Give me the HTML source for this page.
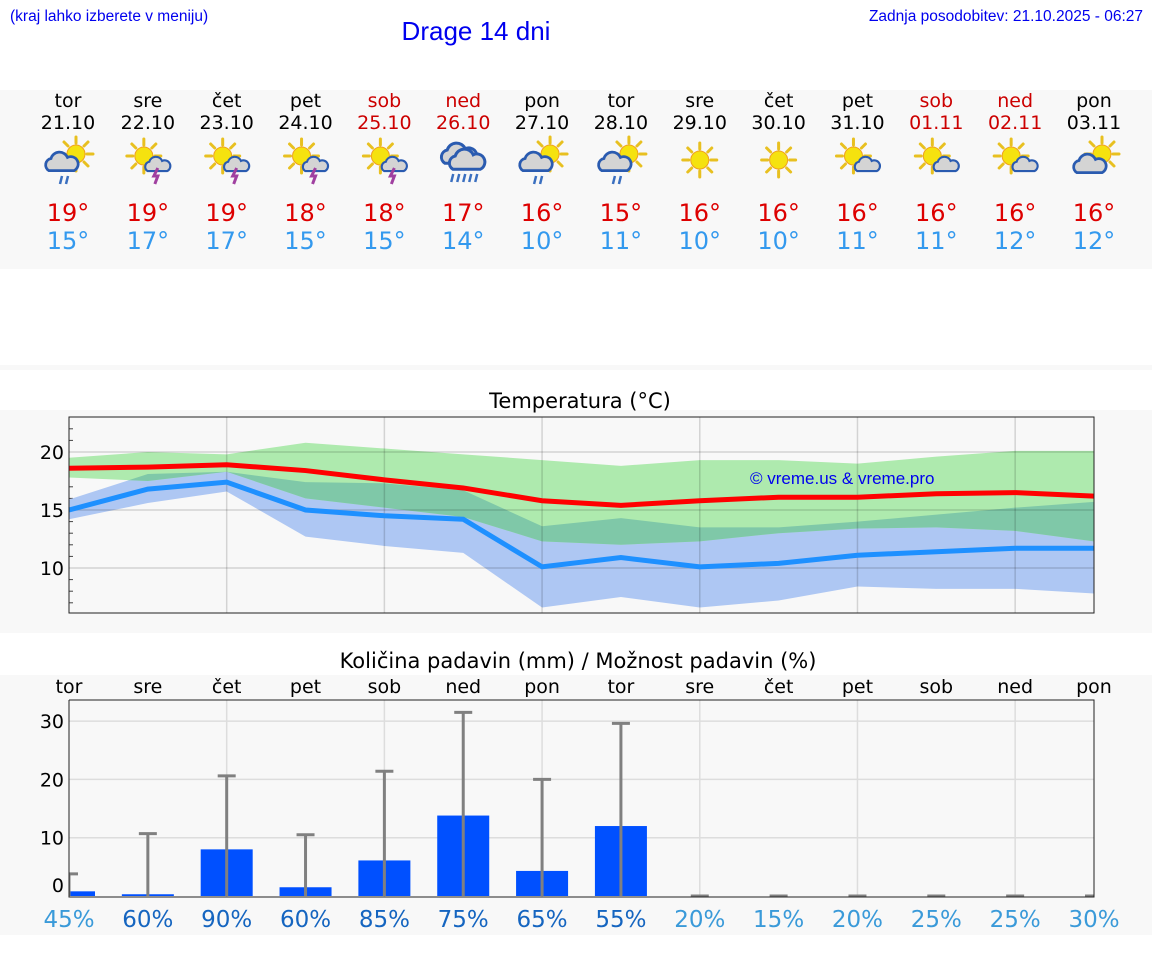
<!DOCTYPE html>
<html><head><meta charset="utf-8"><style>
body{margin:0;background:#fff;width:1152px;height:975px;overflow:hidden;font-family:"DejaVu Sans","Liberation Sans",sans-serif}
svg{display:block}
</style></head><body>
<svg id="main" width="1152" height="975" xmlns="http://www.w3.org/2000/svg">
<defs>
<g id="sun"><g stroke="#e8c020" stroke-width="3" stroke-linecap="round"><line x1="0" y1="-11" x2="0" y2="-17"/><line x1="0" y1="11" x2="0" y2="17"/><line x1="-11" y1="0" x2="-17" y2="0"/><line x1="11" y1="0" x2="17" y2="0"/><line x1="8" y1="8" x2="12" y2="12"/><line x1="-8" y1="-8" x2="-12" y2="-12"/><line x1="8" y1="-8" x2="12" y2="-12"/><line x1="-8" y1="8" x2="-12" y2="12"/></g><circle r="9" fill="#f5e20f" stroke="#f0a020" stroke-width="1"/></g>
<g id="cloud"><path d="M-12,6 a6,6 0 0 1 2,-11 a8,8 0 0 1 15,-1 a6,6 0 0 1 6,12 z" fill="#d4d4d4" stroke="#2a5bb0" stroke-width="2.5"/></g>
</defs>
<rect x="0" y="90" width="1152" height="179" fill="#f8f8f8"/>
<rect x="0" y="365" width="1152" height="5" fill="#f8f8f8"/>
<rect x="0" y="410" width="1152" height="223" fill="#f8f8f8"/>
<rect x="0" y="675" width="1152" height="260" fill="#f8f8f8"/>
<text x="10" y="21" font-family="Liberation Sans" font-size="15.5" fill="#0000ee">(kraj lahko izberete v meniju)</text>
<text x="476" y="40" text-anchor="middle" font-family="Liberation Sans" font-size="26" fill="#0000ee">Drage 14 dni</text>
<text x="1143" y="21" text-anchor="end" font-family="Liberation Sans" font-size="15.5" fill="#0000ee">Zadnja posodobitev: 21.10.2025 - 06:27</text>
<text x="580" y="408" text-anchor="middle" font-size="21" fill="#000">Temperatura (°C)</text>
<text x="578" y="668" text-anchor="middle" font-size="21" fill="#000">Količina padavin (mm) / Možnost padavin (%)</text>
<g id="days"></g>
<g id="temp"></g>
<g id="precip"></g>
</svg>
<script>
const NS='http://www.w3.org/2000/svg';
const weekdays=['tor','sre','čet','pet','sob','ned','pon','tor','sre','čet','pet','sob','ned','pon'];
const dates=['21.10','22.10','23.10','24.10','25.10','26.10','27.10','28.10','29.10','30.10','31.10','01.11','02.11','03.11'];
const weekend=[0,0,0,0,1,1,0,0,0,0,0,1,1,0];
const icons=['rain','storm','storm','storm','storm','heavyrain','rain','rain','sun','sun','cloud','cloud','cloud','cloudbig'];
const tmax=[19,19,19,18,18,17,16,15,16,16,16,16,16,16];
const tmin=[15,17,17,15,15,14,10,11,10,10,11,11,12,12];
const maxLine=[18.6,18.7,18.9,18.4,17.6,16.9,15.8,15.4,15.8,16.1,16.1,16.4,16.5,16.2];
const maxHi=[19.5,20.0,19.8,20.8,20.3,19.8,19.3,18.8,19.3,19.3,19.0,19.6,20.1,20.1];
const maxLo=[17.8,17.5,18.3,16.0,15.2,14.4,12.3,12.0,12.3,13.0,13.4,13.5,13.2,12.3];
const minLine=[15.0,16.8,17.4,15.0,14.5,14.2,10.1,10.9,10.1,10.4,11.1,11.4,11.7,11.7];
const minHi=[15.9,18.1,18.3,17.4,17.3,16.7,13.6,14.3,13.5,13.5,14.0,14.6,15.2,15.7];
const minLo=[14.2,15.6,16.6,12.7,11.9,11.3,6.6,7.5,6.6,7.2,8.4,8.2,8.2,7.8];
const tempTicks=[10,15,20];
const precip=[0.8,0.3,8.0,1.5,6.1,13.8,4.3,12.0,0,0,0,0,0,0];
const precipMax=[3.8,10.7,20.6,10.5,21.4,31.5,20.0,29.6,0,0,0,0,0,0];
const chance=[45,60,90,60,85,75,65,55,20,15,20,25,25,30];
const precipTicks=[0,10,20,30];

const L=69,R=1094;
const dx=i=>L+i*(R-L)/13;
const tY=v=>568+(10-v)*11.6;
const pY=v=>896-v*5.83;
function mk(tag,attrs,parent,txt){const e=document.createElementNS(NS,tag);for(const k in attrs)e.setAttribute(k,attrs[k]);if(txt!==undefined)e.textContent=txt;parent.appendChild(e);return e;}

const D=document.getElementById('days');
function icon(g,type,x,y){
  const u=(id,tx,ty,s)=>mk('use',{href:'#'+id,transform:`translate(${tx},${ty}) scale(${s})`},g);
  const drops=(tx,ty,n)=>{for(let k=0;k<n;k++)mk('line',{x1:tx+k*6,y1:ty,x2:tx+k*6-2,y2:ty+8,stroke:'#3a6fc0','stroke-width':2.5},g);};
  if(type==='rain'){u('sun',x+8,y-6,1);u('cloud',x-6,y+4,1.1);drops(x-6,y+16,2);}
  else if(type==='storm'){u('sun',x-4,y-4,1);u('cloud',x+10,y+6,0.85);mk('path',{d:`M${x+10},${y+8} l-4,8 h4 l-3,8`,stroke:'#a040a0','stroke-width':3,fill:'none'},g);}
  else if(type==='heavyrain'){u('cloud',x-4,y-4,1.2);u('cloud',x+4,y+2,1.2);drops(x-10,y+14,5);}
  else if(type==='sun'){u('sun',x,y,1);}
  else if(type==='cloud'){u('sun',x-4,y-4,1);u('cloud',x+10,y+6,0.85);}
  else {u('sun',x+8,y-6,1);u('cloud',x-4,y+6,1.1);}
}
for(let i=0;i<14;i++){
  const x=dx(i);
  const cx=i===0?68:(i===13?1094:x);
  const wd=mk('text',{x:cx,y:107,'text-anchor':'middle','font-size':19,fill:weekend[i]?'#cc0000':'#000'},D,weekdays[i]);
  
  
  const dt=mk('text',{x:cx,y:129,'text-anchor':'middle','font-size':19,fill:weekend[i]?'#cc0000':'#000'},D,dates[i]);
  
  
  const ig=mk('g',{},D);
  
  
  icon(ig,icons[i],cx,160);
  const mx=mk('text',{x:cx,y:221,'text-anchor':'middle','font-size':24,fill:'#dd0000'},D,tmax[i]+'°');
  
  
  const mn=mk('text',{x:cx,y:249,'text-anchor':'middle','font-size':24,fill:'#3399ee'},D,tmin[i]+'°');
  
  
}

// temperature chart
const T=document.getElementById('temp');
const pa=mk('rect',{x:L,y:417,width:R-L,height:196,fill:'#f8f8f8'},T);


for(let v=7;v<=22;v++){mk('line',{x1:L,y1:tY(v),x2:L+(v%5===0?0:4),y2:tY(v),stroke:'#444'},T);}
const bandPath=(hi,lo)=>'M'+hi.map((v,i)=>dx(i)+','+tY(v)).join('L')+'L'+lo.map((v,i)=>dx(i)+','+tY(v)).reverse().join('L')+'Z';
const cpB=mk('clipPath',{id:'blueclip'},T);
mk('path',{d:bandPath(minHi,minLo)},cpB);
function band(hi,lo,fill,name,clip){
  const a={d:bandPath(hi,lo),fill};if(clip)a['clip-path']='url(#blueclip)';
  const p=mk('path',a,T);
  
  
}
band(minHi,minLo,'#aec7f3','min-temp-range');
band(maxHi,maxLo,'#aeeaae','max-temp-range');
band(maxHi,maxLo,'#7fc8a8','range-overlap',true);
for(let i=2;i<13;i+=2)mk('line',{x1:dx(i),y1:417,x2:dx(i),y2:613,stroke:'rgba(0,0,0,0.15)','stroke-width':1.5},T);
tempTicks.forEach(v=>{mk('line',{x1:L,y1:tY(v),x2:R,y2:tY(v),stroke:'rgba(0,0,0,0.15)','stroke-width':1.5},T);
  const t=mk('text',{x:L-5,y:tY(v)+7,'text-anchor':'end','font-size':19,fill:'#000'},T,v);
  
  });
function line(arr,col,name){
  const p=mk('polyline',{points:arr.map((v,i)=>dx(i)+','+tY(v)).join(' '),fill:'none',stroke:col,'stroke-width':5},T);
  
  
}
line(minLine,'#1e90ff','min-temp-line');
line(maxLine,'#ff0000','max-temp-line');
mk('rect',{x:L,y:417,width:R-L,height:196,fill:'none',stroke:'#222','stroke-width':1},T);
const wm=mk('text',{x:750,y:484,'font-family':'Liberation Sans','font-size':17,fill:'#0000ee'},T,'© vreme.us & vreme.pro');



// precip chart
const P=document.getElementById('precip');
for(let i=0;i<14;i++){
  const t=mk('text',{x:dx(i),y:693,'text-anchor':'middle','font-size':19,fill:'#000'},P,weekdays[i]);
  
  
}
const pp=mk('rect',{x:L,y:700,width:R-L,height:197,fill:'#f8f8f8'},P);


for(let i=2;i<13;i+=2)mk('line',{x1:dx(i),y1:700,x2:dx(i),y2:897,stroke:'#ddd','stroke-width':1.5},P);
precipTicks.forEach(v=>{if(v>0)mk('line',{x1:L,y1:pY(v),x2:R,y2:pY(v),stroke:'#ddd','stroke-width':1.5},P);
  const t=mk('text',{x:L-5,y:(v===0?pY(v)-4:pY(v)+7),'text-anchor':'end','font-size':19,fill:'#000'},P,v);
  
  });
const cp=mk('clipPath',{id:'pclip'},P);mk('rect',{x:L,y:690,width:R-L,height:210},cp);
const bars=mk('g',{'clip-path':'url(#pclip)'},P);
for(let i=0;i<14;i++){
  const w=52;
  if(precip[i]>0){const b=mk('rect',{x:dx(i)-w/2,y:pY(precip[i]),width:w,height:896-pY(precip[i]),fill:'#0050ff'},bars);
  
  }
  const e=mk('g',{},bars);
  
  
  mk('line',{x1:dx(i),y1:896,x2:dx(i),y2:pY(precipMax[i]),stroke:'#808080','stroke-width':3},e);
  mk('line',{x1:dx(i)-9,y1:pY(precipMax[i]),x2:dx(i)+9,y2:pY(precipMax[i]),stroke:'#808080','stroke-width':3},e);
  const pc=mk('text',{x:dx(i),y:927,'text-anchor':'middle','font-size':23,fill:chance[i]>=50?'#1565c0':'#3a9ad9'},P,chance[i]+'%');
  
  
}
mk('path',{d:`M${L},700 V897 H${R} V700 H${L}`,fill:'none',stroke:'#222','stroke-width':1},P);
</script>
</body></html>
